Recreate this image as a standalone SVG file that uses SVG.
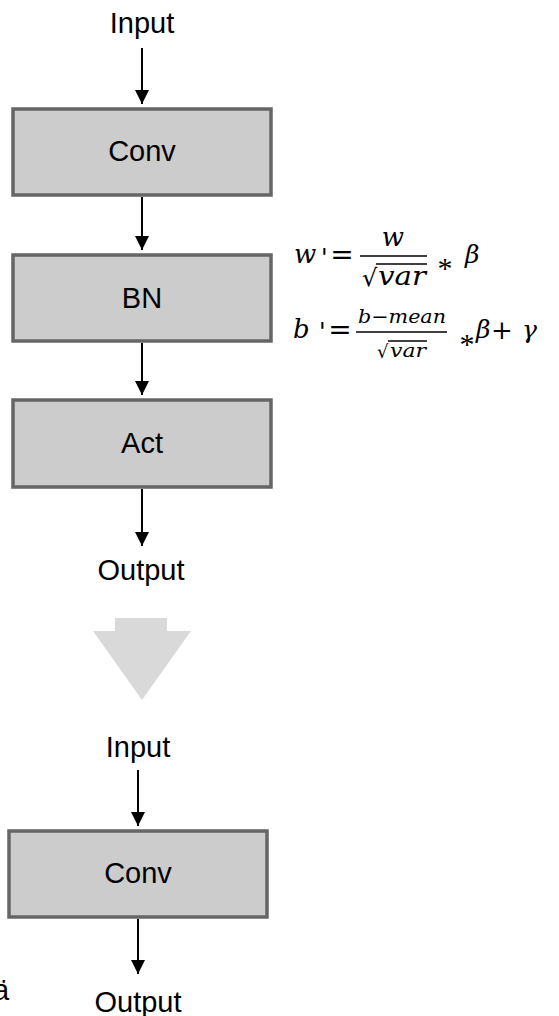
<svg xmlns="http://www.w3.org/2000/svg" width="559" height="1016" viewBox="0 0 559 1016">
  <defs>
    <marker id="arrowhead" viewBox="0 0 14 16" refX="14" refY="8" markerWidth="14" markerHeight="16" markerUnits="userSpaceOnUse" orient="auto">
      <path d="M0,1 L14,8 L0,15 Z" fill="#000"/>
    </marker>
    <style>
      .box { fill: #cccccc; stroke: #666666; stroke-width: 3.5; }
      .lbl { font-family: "Liberation Sans", Arial, sans-serif; font-size: 29px; fill: #000; text-anchor: middle; }
      .edge { stroke: #000; stroke-width: 2; fill: none; marker-end: url(#arrowhead); }
      .math { font-family: "DejaVu Serif", "Liberation Serif", serif; font-style: italic; fill: #000; }
      .op { font-family: "DejaVu Serif", "Liberation Serif", serif; fill: #000; }
      .ast { font-family: "Liberation Serif", "DejaVu Serif", serif; font-size: 30px; fill: #000; text-anchor: middle; }
      .prime { font-family: "DejaVu Sans", sans-serif; font-size: 24px; fill: #000; }
      .bar { stroke: #000; stroke-width: 1.6; }
    </style>
  </defs>

  <rect width="559" height="1016" fill="#ffffff"/>

  <!-- upper pipeline: Conv -> BN -> Act -->
  <g id="input-top"><text class="lbl" x="142" y="33">Input</text></g>
  <g id="conv-top">
    <rect class="box" x="13" y="109" width="258" height="86"/>
    <text class="lbl" x="142" y="161">Conv</text>
  </g>
  <g id="bn">
    <rect class="box" x="13" y="255" width="258" height="86"/>
    <text class="lbl" x="142" y="308">BN</text>
  </g>
  <g id="act">
    <rect class="box" x="13" y="400" width="258" height="87"/>
    <text class="lbl" x="142" y="453">Act</text>
  </g>
  <g id="output-top"><text class="lbl" x="141" y="580">Output</text></g>

  <!-- fusion formulas -->
  <g id="formula">
    <text class="math" x="294" y="263" font-size="26">w</text>
    <text class="prime" x="321" y="266">'</text>
    <text class="op" x="342" y="264" font-size="28" text-anchor="middle">=</text>
    <text class="math" x="393" y="246" font-size="26" text-anchor="middle">w</text>
    <line class="bar" x1="360" y1="256" x2="427" y2="256"/>
    <text class="op" x="362" y="286" font-size="24">√</text>
    <line class="bar" x1="376" y1="264" x2="427" y2="264"/>
    <text class="math" x="378" y="285" font-size="26" textLength="48" lengthAdjust="spacingAndGlyphs">var</text>
    <text class="ast" x="445" y="278">*</text>
    <text class="math" x="465" y="263" font-size="25">β</text>

    <text class="math" x="293" y="338" font-size="26">b</text>
    <text class="prime" x="319" y="340">'</text>
    <text class="op" x="340" y="339" font-size="28" text-anchor="middle">=</text>
    <text class="math" x="358" y="323" font-size="19" textLength="88" lengthAdjust="spacingAndGlyphs">b−mean</text>
    <line class="bar" x1="356" y1="332" x2="447" y2="332"/>
    <text class="op" x="377" y="358" font-size="18">√</text>
    <line class="bar" x1="388" y1="341" x2="427" y2="341"/>
    <text class="math" x="390" y="357" font-size="19" textLength="36" lengthAdjust="spacingAndGlyphs">var</text>
    <text class="ast" x="467" y="354">*</text>
    <text class="math" x="476" y="338" font-size="25">β</text>
    <text class="op" x="502" y="339" font-size="26" text-anchor="middle">+</text>
    <text class="math" x="522" y="338" font-size="25">γ</text>
  </g>

  <!-- transformation arrow -->
  <g id="transform-arrow">
    <path d="M115,618 L167,618 L167,631 L191,631 L142,700 L93,631 L115,631 Z" fill="#d9d9d9"/>
  </g>

  <!-- lower pipeline: fused Conv -->
  <g id="input-bottom"><text class="lbl" x="138" y="757">Input</text></g>
  <g id="conv-bottom">
    <rect class="box" x="9" y="831" width="258" height="86"/>
    <text class="lbl" x="138" y="883">Conv</text>
  </g>
  <g id="output-bottom"><text class="lbl" x="138" y="1012">Output</text></g>

  <g id="stray"><text class="lbl" x="1" y="1000" font-size="16" text-anchor="start">ä</text></g>

  <g id="connectors">
    <line class="edge" x1="142" y1="48" x2="142" y2="104"/>
    <line class="edge" x1="142" y1="197" x2="142" y2="250"/>
    <line class="edge" x1="142" y1="343" x2="142" y2="395"/>
    <line class="edge" x1="142" y1="489" x2="142" y2="546"/>
    <line class="edge" x1="138" y1="770" x2="138" y2="826"/>
    <line class="edge" x1="138" y1="919" x2="138" y2="974"/>
  </g>
</svg>
